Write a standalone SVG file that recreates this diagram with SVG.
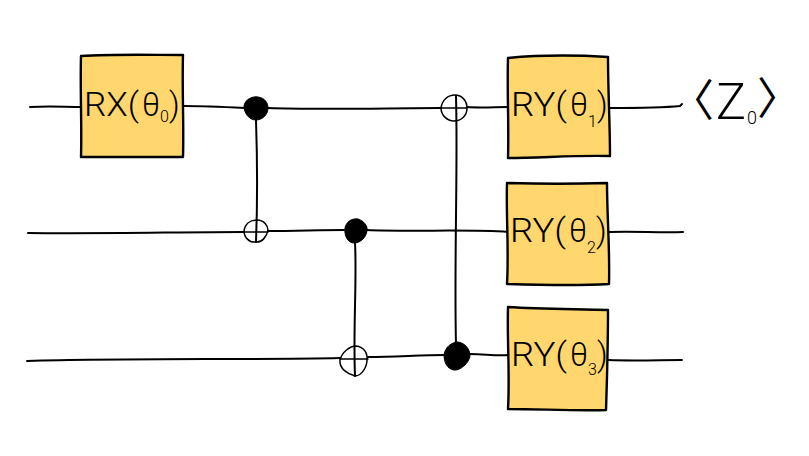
<svg xmlns="http://www.w3.org/2000/svg" width="809" height="456" viewBox="0 0 809 456">
<style>
.w{fill:none;stroke:#000;stroke-width:2;stroke-linecap:round;stroke-linejoin:round}
.t{stroke-width:1.5}
.b{fill:#ffd76e;stroke:#000;stroke-width:2.4;stroke-linejoin:round;stroke-linecap:round}
.d{fill:#000;stroke:#000;stroke-width:1}
.l{font-family:"Roboto","Liberation Sans",sans-serif;font-weight:300;font-size:33px;fill:#000}
.s{font-family:"Roboto","Liberation Sans",sans-serif;font-weight:300;font-size:16px;fill:#000}
.z{font-family:"Roboto","Liberation Sans",sans-serif;font-weight:300;font-size:50px;fill:#000}
.a{font-family:"Noto Sans CJK SC",sans-serif;font-weight:400;font-size:44px;fill:#000}
</style>
<rect width="809" height="456" fill="#fff"/>
<g id="connectors">
<path class="w" d="M30 107C50 106 65 107 81 107"/>
<path class="w" d="M184 106C205 106 225 107 245 108"/>
<path class="w" d="M268 108C320 110 390 108 441 108"/>
<path class="w" d="M467 107C480 108 495 107 508 107"/>
<path class="w" d="M610 108C635 108 660 108 680 106L682 104"/>
<path class="w" d="M28 233C100 234 180 232 244 232"/>
<path class="w" d="M268 231C295 231 320 230 344 230"/>
<path class="w" d="M367 230C410 232 470 229 508 232"/>
<path class="w" d="M609 232C635 231 660 233 683 232"/>
<path class="w" d="M27 361C130 358 250 360 340 358"/>
<path class="w" d="M368 357C395 357 420 355 445 355"/>
<path class="w" d="M470 354C485 354 495 356 508 355"/>
<path class="w" d="M608 360C635 361 660 360 682 360"/>
<path class="w" d="M256 120C257 150 258 190 256 242"/>
<path class="w" d="M355 242C357 280 353 330 355 376"/>
<path class="w" d="M456 96C458 170 454 260 456 345"/>
</g>
<g id="cnot-control-1"><path class="d" d="M244 106C245 99 253 96 258 97C265 98 268 103 268 108C268 115 262 120 256 120C249 120 244 113 244 106Z"/></g>
<g id="cnot-target-1"><path class="w t" d="M244 231C245 224 250 220 257 220C264 220 268 226 268 230C267 236 262 243 256 242C249 243 244 237 244 231Z"/><path class="w t" d="M244 232H268"/></g>
<g id="cnot-control-2"><path class="d" d="M345 228C346 222 352 218 358 219C364 221 368 226 367 231C366 238 360 243 354 243C348 243 344 236 345 228Z"/></g>
<g id="cnot-target-2"><path class="w t" d="M340 360C342 352 350 346 356 346C364 347 368 353 367 361C366 370 360 376 355 376C348 374 339 369 340 360Z"/><path class="w t" d="M340 359H368"/></g>
<g id="cnot-control-3"><path class="d" d="M444 355C445 347 452 342 458 342C465 343 470 349 470 356C469 363 460 371 454 370C447 369 444 362 444 355Z"/></g>
<g id="cnot-target-3"><path class="w t" d="M441 108C442 100 448 95 455 95C462 95 467 101 467 108C467 116 461 121 454 121C447 121 441 115 441 108Z"/><path class="w t" d="M441 108H467"/></g>
<g id="gate-rx0">
<path class="b" d="M81 56C115 54 150 55 183 55C182 90 184 125 183 157C150 157 115 157 81 157C82 125 80 90 81 56Z"/>
<text class="l" x="84" y="116" textLength="55" lengthAdjust="spacingAndGlyphs">RX(</text><text class="l" x="142" y="116" textLength="18" lengthAdjust="spacingAndGlyphs">θ</text><text class="s" x="160" y="122">0</text><text class="l" x="169" y="116">)</text>
</g>
<g id="gate-ry1">
<path class="b" d="M508 58C540 55 575 55 608 57C608 90 610 125 610 156C575 155 540 158 508 158C509 125 507 90 508 58Z"/>
<text class="l" x="511" y="116" textLength="56" lengthAdjust="spacingAndGlyphs">RY(</text><text class="l" x="570" y="116" textLength="18" lengthAdjust="spacingAndGlyphs">θ</text><text class="s" x="588" y="127">1</text><text class="l" x="597" y="116">)</text>
</g>
<g id="gate-ry2">
<path class="b" d="M507 183C540 184 575 184 607 183C607 215 610 250 609 284C575 286 540 285 507 284C509 250 506 215 507 183Z"/>
<text class="l" x="510" y="242" textLength="56" lengthAdjust="spacingAndGlyphs">RY(</text><text class="l" x="569" y="242" textLength="18" lengthAdjust="spacingAndGlyphs">θ</text><text class="s" x="587" y="253">2</text><text class="l" x="596" y="242">)</text>
</g>
<g id="gate-ry3">
<path class="b" d="M508 307C540 309 575 309 608 310C608 345 607 380 606 410C575 411 540 409 508 409C510 375 507 340 508 307Z"/>
<text class="l" x="511" y="366" textLength="56" lengthAdjust="spacingAndGlyphs">RY(</text><text class="l" x="570" y="366" textLength="18" lengthAdjust="spacingAndGlyphs">θ</text><text class="s" x="588" y="375">3</text><text class="l" x="597" y="366">)</text>
</g>
<g id="expectation">
<text class="a" x="670" y="116">〈</text>
<text class="z" x="716" y="119" textLength="30" lengthAdjust="spacingAndGlyphs">Z</text>
<text class="s" x="747" y="124" style="font-size:18px">0</text>
<text class="a" x="757" y="114">〉</text>
</g>
</svg>
